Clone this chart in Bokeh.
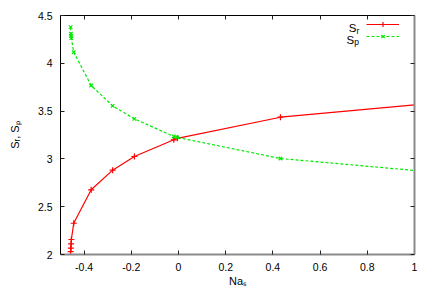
from math import pi
from bokeh.plotting import figure
from bokeh.models import (Range1d, LinearAxis, FixedTicker, Label, Legend, LegendItem,
                          CustomJSTickFormatter)
from bokeh.embed import file_html
from bokeh.resources import INLINE

# data
na_s = [-0.457, -0.456, -0.455, -0.454, -0.444, -0.370, -0.279, -0.187, -0.020, -0.005, 0.432, 1.0]
s_r = [2.030, 2.066, 2.112, 2.157, 2.327, 2.677, 2.882, 3.025, 3.200, 3.215, 3.436, 3.566]
s_p = [4.378, 4.309, 4.284, 4.263, 4.116, 3.768, 3.555, 3.419, 3.235, 3.225, 3.004, 2.879]
x_ticks = [-0.4, -0.2, 0.0, 0.2, 0.4, 0.6, 0.8, 1.0]
y_ticks = [2.0, 2.5, 3.0, 3.5, 4.0, 4.5]

FONT = "Liberation Sans"
RED = "#ff0000"
GREEN = "#00ea00"

W, H = 436, 305
FL, FT, FR, FB = 60, 15, 414, 254  # frame edges in page pixels

p = figure(width=W, height=H, x_range=Range1d(-0.5, 1.0), y_range=Range1d(2.0, 4.5),
           output_backend="svg", toolbar_location=None,
           min_border_left=FL, min_border_right=W - FR, min_border_top=FT,
           min_border_bottom=H - FB)
p.outline_line_color = None
p.grid.visible = False
p.background_fill_color = "white"
p.border_fill_color = "white"

fmt = CustomJSTickFormatter(code="return Number(tick.toFixed(2)).toString();")
blank = CustomJSTickFormatter(code="return '';")

def style(ax, ticks, labels=True, color="black", width=1):
    ax.ticker = FixedTicker(ticks=ticks)
    ax.minor_tick_line_color = None
    ax.major_tick_in = 4
    ax.major_tick_out = 0
    ax.major_tick_line_color = "#222222"
    ax.axis_line_color = color
    ax.axis_line_width = width
    if labels:
        ax.formatter = fmt
        ax.major_label_text_font = FONT
        ax.major_label_text_font_size = "10.5px"
        ax.major_label_text_color = "black"
        ax.major_label_standoff = 8
    else:
        ax.formatter = blank
        ax.major_label_standoff = 0

bottom = p.below[0]
left = p.left[0]
style(bottom, x_ticks, color="#8a8a8a", width=2)
style(left, y_ticks)
top = LinearAxis()
right = LinearAxis()
style(top, x_ticks, labels=False)
style(right, y_ticks, labels=False, color="#8a8a8a", width=2)
p.add_layout(top, "above")
p.add_layout(right, "right")

n_in = len([v for v in na_s if v < 1.0])
lr = p.line(na_s, s_r, line_color=RED, line_width=1.2)
mr = p.scatter(na_s[:n_in], s_r[:n_in], marker="cross", size=6, line_color=RED, line_width=1.2)
lp = p.line(na_s, s_p, line_color=GREEN, line_width=1.2, line_dash="3 2")
mp = p.scatter(na_s[:n_in], s_p[:n_in], marker="x", size=5, line_color=GREEN, line_width=1.2)

legend = Legend(items=[LegendItem(label=" ", renderers=[lr, mr]),
                       LegendItem(label=" ", renderers=[lp, mp])],
                location=(306, 212), glyph_width=33, glyph_height=12, label_height=12,
                label_width=0, label_standoff=0, padding=0, spacing=0, margin=0,
                border_line_color=None, background_fill_alpha=0,
                label_text_font_size="1px")
p.add_layout(legend, "center")

def lab(text, x, y, size="10.5px", align="left"):
    # x, y in page pixels from top-left (canvas units)
    p.add_layout(Label(x=x, y=y, x_units="canvas", y_units="canvas",
                       text=text, text_font=FONT, text_font_size=size, text_align=align,
                       text_baseline="alphabetic", text_color="black"))

# legend text
lab("S", 356, 27, size="11.5px", align="right")
lab("r", 356, 30, size="8.5px")
lab("S", 353.7, 39, size="11.5px", align="right")
lab("p", 353.7, 41.5, size="8.5px")

# axis labels
left.axis_label = "S\u1d63, S\u209a"
left.axis_label_standoff = 14
bottom.axis_label = "Na\u209b"
bottom.axis_label_standoff = 1
for ax in (bottom, left):
    ax.axis_label_text_font = FONT
    ax.axis_label_text_font_style = "normal"
    ax.axis_label_text_font_size = "11px"
    ax.axis_label_text_color = "black"

open("out.html", "w").write(file_html(p, INLINE))
